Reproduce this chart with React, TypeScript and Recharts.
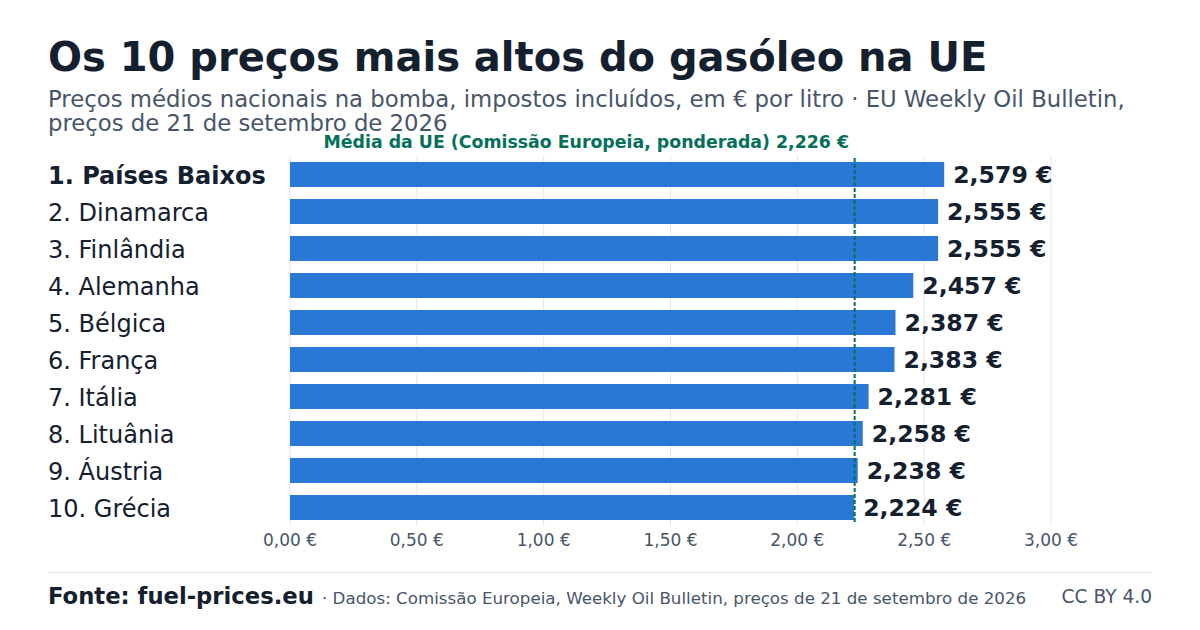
import React from 'react';
import { BarChart, Bar, XAxis, YAxis, CartesianGrid, ReferenceLine, LabelList } from 'recharts';

const countries = ['1. Países Baixos', '2. Dinamarca', '3. Finlândia', '4. Alemanha', '5. Bélgica', '6. França', '7. Itália', '8. Lituânia', '9. Áustria', '10. Grécia'];
const prices = [2.579, 2.555, 2.555, 2.457, 2.387, 2.383, 2.281, 2.258, 2.238, 2.224];
const xTicks = [0, 0.5, 1, 1.5, 2, 2.5, 3];
const euAverage = 2.226;

const FONT = '"DejaVu Sans", sans-serif';
const DARK = '#14202e';
const SLATE = '#475569';
const GREEN = '#04705a';

const data = countries.map((name, i) => ({ name, price: prices[i] }));

const euro = (v: number, digits: number) => `${v.toFixed(digits).replace('.', ',')} €`;

function CountryTick({ y, payload, index }: any) {
  return (
    <text x={48} y={y} dy={9} fontSize={24} fontFamily={FONT} fontWeight={index === 0 ? 700 : 400} fill={DARK}>
      {payload.value}
    </text>
  );
}

function AverageLine({ x1, x2, y1, y2 }: any) {
  return <line x1={x1} x2={x2} y1={y1 - 4} y2={y2} stroke={GREEN} strokeWidth={2} strokeDasharray="4 2" />;
}

export default function App() {
  return (
    <div style={{ position: 'absolute', left: 0, top: 0, width: 1200, height: 630, background: '#fff', fontFamily: FONT, overflow: 'hidden' }}>
      <div style={{ position: 'absolute', left: 48, top: 34, fontSize: 40, fontWeight: 700, color: DARK, whiteSpace: 'nowrap', lineHeight: '47px' }}>
        Os 10 preços mais altos do gasóleo na UE
      </div>
      <div style={{ position: 'absolute', left: 48, top: 87, width: 1104, fontSize: 22.78, color: SLATE, lineHeight: '24px' }}>
        Preços médios nacionais na bomba, impostos incluídos, em € por litro · EU Weekly Oil Bulletin, preços de 21 de setembro de 2026
      </div>
      <div style={{ position: 'absolute', left: 0, top: 0 }}>
        <BarChart width={1200} height={630} data={data} layout="vertical" barSize={25} margin={{ top: 156, right: 149, bottom: 74, left: 48 }}>
          <CartesianGrid horizontal={false} stroke="#e2e6ee" strokeWidth={1} />
          <XAxis
            type="number"
            domain={[0, 3]}
            ticks={xTicks}
            tickFormatter={(v: number) => euro(v, 2)}
            axisLine={false}
            tickLine={false}
            height={30}
            tick={{ fontSize: 17, fontFamily: FONT, fill: SLATE, dy: 0 }}
          />
          <YAxis type="category" dataKey="name" width={242} axisLine={false} tickLine={false} tick={<CountryTick />} interval={0} />
          <Bar dataKey="price" fill="#2a78d6" isAnimationActive={false}>
            <LabelList
              dataKey="price"
              position="right"
              offset={9}
              formatter={(v: number) => euro(v, 3)}
              style={{ fontSize: 23.6, fontWeight: 700, fontFamily: FONT, fill: DARK }}
            />
          </Bar>
          <ReferenceLine x={euAverage} shape={<AverageLine />} />
        </BarChart>
      </div>
      <div style={{ position: 'absolute', right: 351, top: 133, fontSize: 17.35, fontWeight: 700, color: GREEN, whiteSpace: 'nowrap', lineHeight: '18px' }}>
        Média da UE (Comissão Europeia, ponderada) {euro(euAverage, 3)}
      </div>
      <div style={{ position: 'absolute', left: 48, top: 572, width: 1104, borderTop: '1px solid #e2e6ee' }} />
      <div style={{ position: 'absolute', left: 48, top: 582, fontSize: 22.7, fontWeight: 700, color: DARK, whiteSpace: 'nowrap', lineHeight: '28px' }}>
        Fonte: fuel-prices.eu
      </div>
      <div style={{ position: 'absolute', left: 322, top: 588, fontSize: 16.7, color: SLATE, whiteSpace: 'nowrap', lineHeight: '20px' }}>
        · Dados: Comissão Europeia, Weekly Oil Bulletin, preços de 21 de setembro de 2026
      </div>
      <div style={{ position: 'absolute', right: 48, top: 585, fontSize: 18.6, color: SLATE, whiteSpace: 'nowrap', lineHeight: '24px' }}>
        CC BY 4.0
      </div>
    </div>
  );
}
